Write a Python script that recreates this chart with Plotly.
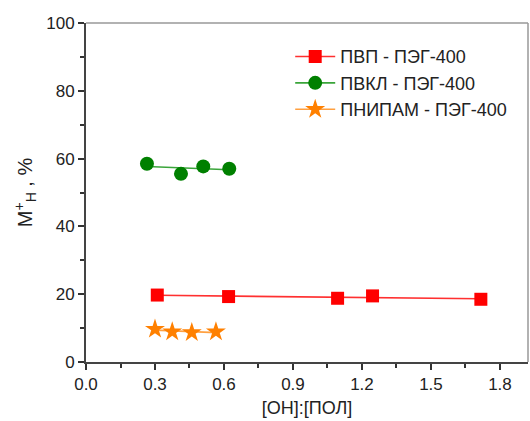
import numpy as np
import plotly.graph_objects as go

# Data
pvp_x = [0.31, 0.62, 1.094, 1.246, 1.717]
pvp_y = [19.75, 19.3, 18.8, 19.5, 18.5]

pvkl_x = [0.265, 0.413, 0.51, 0.623]
pvkl_y = [58.5, 55.5, 57.7, 57.0]

pnipam_x = [0.30, 0.375, 0.46, 0.565]
pnipam_y = [9.7, 8.9, 8.7, 8.9]

names = ["ПВП - ПЭГ-400", "ПВКЛ - ПЭГ-400", "ПНИПАМ - ПЭГ-400"]
series = [(pvp_x, pvp_y), (pvkl_x, pvkl_y), (pnipam_x, pnipam_y)]
marker_colors = ["#FF0000", "#008000", "#FF8000"]
line_colors = ["#FF3030", "#3AA53A", "#FFA040"]
symbols = ["square", "circle", "star"]
sizes = [13, 14, 15]

fig = go.Figure()
for (xs, ys), mc, lc, sym, sz in zip(series, marker_colors, line_colors, symbols, sizes):
    k, b = np.polyfit(xs, ys, 1)
    xf = np.array([min(xs), max(xs)])
    fig.add_trace(go.Scatter(x=xf, y=k * xf + b, mode="lines",
                             line=dict(color=lc, width=1.6), showlegend=False, hoverinfo="skip"))
    fig.add_trace(go.Scatter(x=xs, y=ys, mode="markers",
                             marker=dict(symbol=sym, size=sz, color=mc, line=dict(width=0)),
                             showlegend=False))

for name, mc, lc, sym, sz in zip(names, marker_colors, line_colors, symbols, sizes):
    fig.add_trace(go.Scatter(x=[None], y=[None], mode="lines+markers", name=name,
                             line=dict(color=lc, width=1.6),
                             marker=dict(symbol=sym, size=sz, color=mc, line=dict(width=0))))

axis_font = dict(family="Liberation Sans, Arial", size=17, color="#222222")
fig.update_layout(
    width=530, height=421,
    margin=dict(l=86, r=2, t=23, b=59),
    paper_bgcolor="white", plot_bgcolor="white",
    font=axis_font,
    xaxis=dict(range=[0, 1.922], tickmode="array",
               tickvals=[0.0, 0.3, 0.6, 0.9, 1.2, 1.5, 1.8],
               ticktext=["0.0", "0.3", "0.6", "0.9", "1.2", "1.5", "1.8"],
               ticks="outside", ticklen=6, tickwidth=1.5, tickcolor="#333333",
               minor=dict(tickvals=[0.15, 0.45, 0.75, 1.05, 1.35, 1.65], ticks="outside",
                          ticklen=4, tickwidth=1.5, tickcolor="#333333"),
               showline=True, linecolor="#444444", linewidth=2, showgrid=False, zeroline=False,
               title=dict(text="[ОН]:[ПОЛ]", font=dict(size=18), standoff=8)),
    yaxis=dict(range=[0, 100], tickvals=[0, 20, 40, 60, 80, 100],
               ticks="outside", ticklen=6, tickwidth=1.5, tickcolor="#333333",
               minor=dict(tickvals=[10, 30, 50, 70, 90], ticks="outside",
                          ticklen=4, tickwidth=1.5, tickcolor="#333333"),
               showline=True, linecolor="#444444", linewidth=2, showgrid=False, zeroline=False,
               title=dict(text="M<sup>+</sup><sub>Н</sub> , %", font=dict(size=20), standoff=8)),
    legend=dict(x=0.462, y=0.955, xanchor="left", yanchor="top",
                bgcolor="rgba(0,0,0,0)", font=dict(size=18, color="#222222"),
                tracegroupgap=0, itemwidth=40),
    showlegend=True,
)
fig.add_shape(type="line", xref="paper", yref="paper", x0=0, x1=1, y0=1, y1=1,
              line=dict(color="#999999", width=1.5))
fig.add_shape(type="line", xref="paper", yref="paper", x0=1, x1=1, y0=0, y1=1,
              line=dict(color="#999999", width=1.5))

fig.write_html("out.html")
